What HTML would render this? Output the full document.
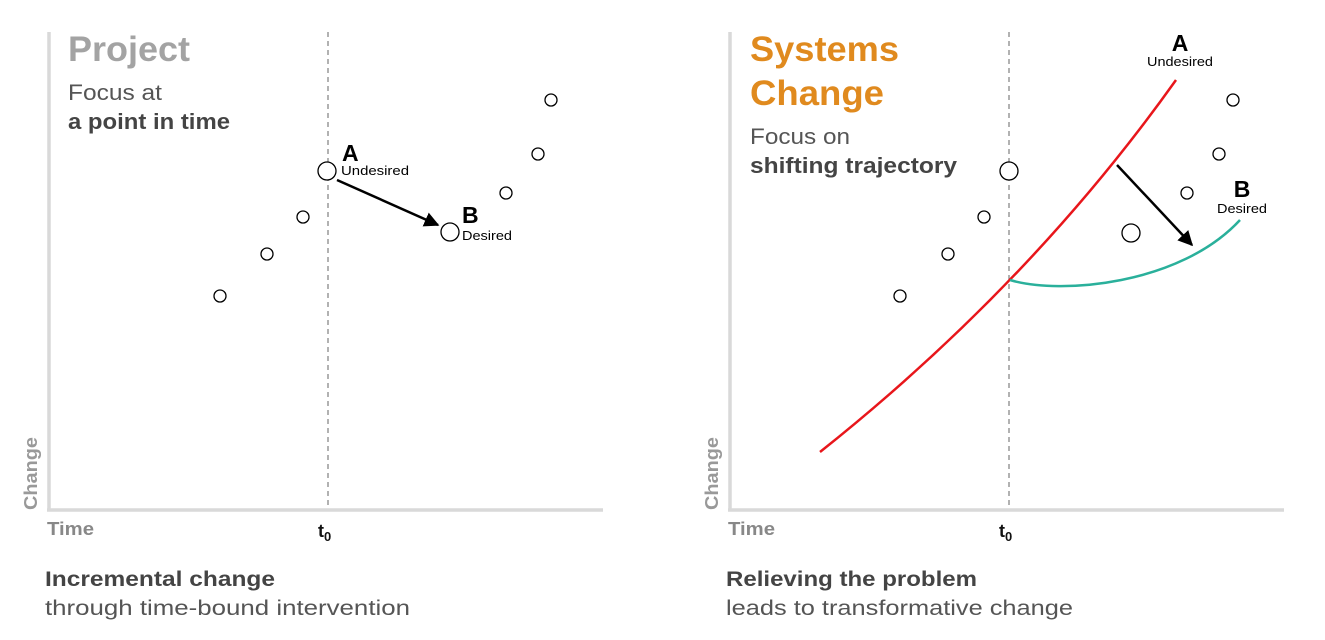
<!DOCTYPE html>
<html><head><meta charset="utf-8"><style>
html,body{margin:0;padding:0;background:#fff;}
svg{display:block;font-family:"Liberation Sans",sans-serif;}
</style></head><body>
<svg width="1325" height="640" viewBox="0 0 1325 640" xmlns="http://www.w3.org/2000/svg">
<defs>
<marker id="ah" viewBox="0 0 10 10" refX="9" refY="5" markerWidth="6" markerHeight="6" orient="auto"><path d="M0,0 L10,5 L0,10 z" fill="#000"/></marker>
</defs>
<!-- LEFT PANEL -->
<line x1="49" y1="32" x2="49" y2="510" stroke="#d9d9d9" stroke-width="3.5"/>
<line x1="47" y1="510" x2="603" y2="510" stroke="#d9d9d9" stroke-width="3.5"/>
<line x1="328" y1="32" x2="328" y2="508" stroke="#888" stroke-width="1.3" stroke-dasharray="5,4"/>
<text x="68" y="61" font-size="35" font-weight="bold" fill="#a3a3a3" textLength="122" lengthAdjust="spacingAndGlyphs">Project</text>
<text x="68" y="100" font-size="22" fill="#555" textLength="94" lengthAdjust="spacingAndGlyphs">Focus at</text>
<text x="68" y="129" font-size="22" font-weight="bold" fill="#444" textLength="162" lengthAdjust="spacingAndGlyphs">a point in time</text>
<g fill="#fff" stroke="#000" stroke-width="1.3">
<circle cx="220" cy="296" r="6"/><circle cx="267" cy="254" r="6"/><circle cx="303" cy="217" r="6"/>
<circle cx="327" cy="171" r="9"/><circle cx="450" cy="232" r="9"/>
<circle cx="506" cy="193" r="6"/><circle cx="538" cy="154" r="6"/><circle cx="551" cy="100" r="6"/>
</g>
<line x1="337" y1="180" x2="438" y2="225" stroke="#000" stroke-width="2.5" marker-end="url(#ah)"/>
<text x="342" y="161" font-size="23" font-weight="bold" fill="#000">A</text>
<text x="341" y="175" font-size="13" fill="#000" textLength="68" lengthAdjust="spacingAndGlyphs">Undesired</text>
<text x="462" y="223" font-size="23" font-weight="bold" fill="#000">B</text>
<text x="462" y="240" font-size="13" fill="#000" textLength="50" lengthAdjust="spacingAndGlyphs">Desired</text>
<text transform="translate(37,510) rotate(-90)" font-size="18" font-weight="bold" fill="#999" textLength="73" lengthAdjust="spacingAndGlyphs">Change</text>
<text x="47" y="535" font-size="18" font-weight="bold" fill="#888" textLength="47" lengthAdjust="spacingAndGlyphs">Time</text>
<text x="318" y="537" font-size="18" font-weight="bold" fill="#111">t<tspan font-size="13" dy="4">0</tspan></text>
<text x="45" y="586" font-size="21" font-weight="bold" fill="#444" textLength="230" lengthAdjust="spacingAndGlyphs">Incremental change</text>
<text x="45" y="615" font-size="21" fill="#555" textLength="365" lengthAdjust="spacingAndGlyphs">through time-bound intervention</text>

<!-- RIGHT PANEL -->
<line x1="730" y1="32" x2="730" y2="510" stroke="#d9d9d9" stroke-width="3.5"/>
<line x1="728" y1="510" x2="1284" y2="510" stroke="#d9d9d9" stroke-width="3.5"/>
<line x1="1009" y1="32" x2="1009" y2="508" stroke="#888" stroke-width="1.3" stroke-dasharray="5,4"/>
<text x="750" y="61" font-size="35" font-weight="bold" fill="#e08a1e" textLength="149" lengthAdjust="spacingAndGlyphs">Systems</text>
<text x="750" y="105" font-size="35" font-weight="bold" fill="#e08a1e" textLength="134" lengthAdjust="spacingAndGlyphs">Change</text>
<text x="750" y="144" font-size="22" fill="#555" textLength="100" lengthAdjust="spacingAndGlyphs">Focus on</text>
<text x="750" y="173" font-size="22" font-weight="bold" fill="#444" textLength="207" lengthAdjust="spacingAndGlyphs">shifting trajectory</text>
<path d="M820,452 Q1030,285 1176,80" fill="none" stroke="#e8161b" stroke-width="2.5"/>
<path d="M1010,280 C1060,295 1180,285 1240,220" fill="none" stroke="#2ab09b" stroke-width="2.5"/>
<g fill="#fff" stroke="#000" stroke-width="1.3">
<circle cx="900" cy="296" r="6"/><circle cx="948" cy="254" r="6"/><circle cx="984" cy="217" r="6"/>
<circle cx="1009" cy="171" r="9"/><circle cx="1131" cy="233" r="9"/>
<circle cx="1187" cy="193" r="6"/><circle cx="1219" cy="154" r="6"/><circle cx="1233" cy="100" r="6"/>
</g>
<line x1="1117" y1="165" x2="1192" y2="245" stroke="#000" stroke-width="2.5" marker-end="url(#ah)"/>
<text x="1180" y="51" font-size="23" font-weight="bold" fill="#000" text-anchor="middle">A</text>
<text x="1147" y="66" font-size="13" fill="#000" textLength="66" lengthAdjust="spacingAndGlyphs">Undesired</text>
<text x="1242" y="197" font-size="23" font-weight="bold" fill="#000" text-anchor="middle">B</text>
<text x="1217" y="213" font-size="13" fill="#000" textLength="50" lengthAdjust="spacingAndGlyphs">Desired</text>
<text transform="translate(718,510) rotate(-90)" font-size="18" font-weight="bold" fill="#999" textLength="73" lengthAdjust="spacingAndGlyphs">Change</text>
<text x="728" y="535" font-size="18" font-weight="bold" fill="#888" textLength="47" lengthAdjust="spacingAndGlyphs">Time</text>
<text x="999" y="537" font-size="18" font-weight="bold" fill="#111">t<tspan font-size="13" dy="4">0</tspan></text>
<text x="726" y="586" font-size="21" font-weight="bold" fill="#444" textLength="251" lengthAdjust="spacingAndGlyphs">Relieving the problem</text>
<text x="726" y="615" font-size="21" fill="#555" textLength="347" lengthAdjust="spacingAndGlyphs">leads to transformative change</text>
</svg>
</body></html>
